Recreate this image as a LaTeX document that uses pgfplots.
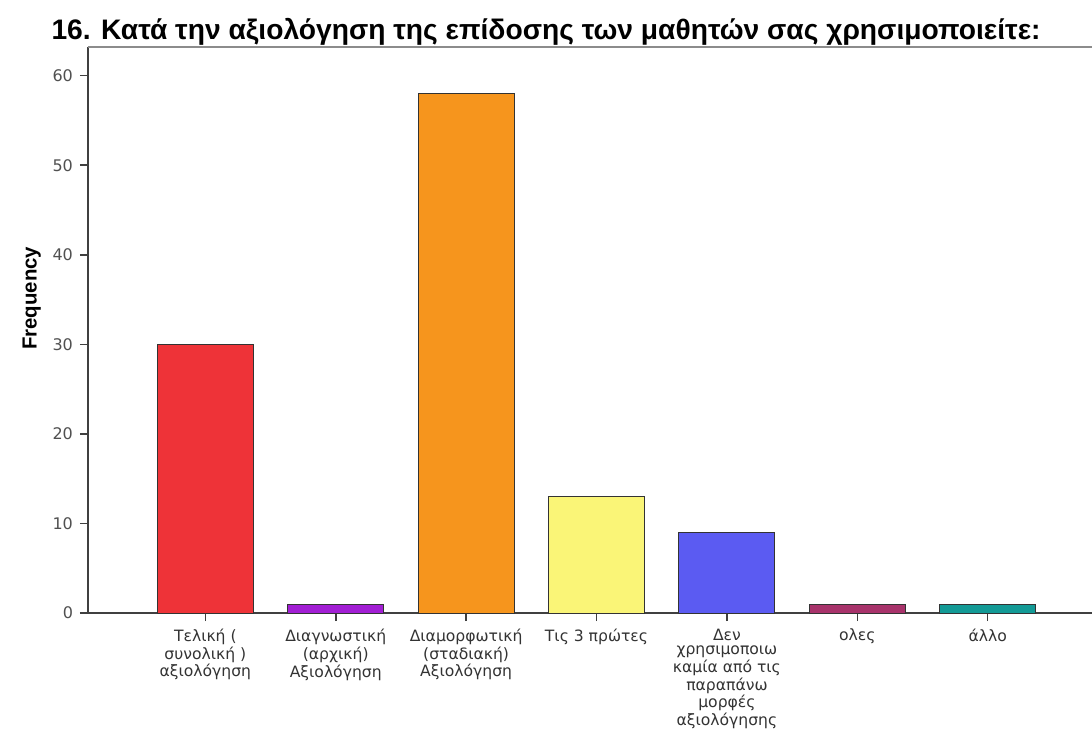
\documentclass[border=0pt]{standalone}
\usepackage{fontspec}
\setmainfont{Liberation Sans}
\newfontfamily\labfont{DejaVu Sans}
\usepackage{pgfplots}
\pgfplotsset{compat=1.18}
\definecolor{cRed}{HTML}{EE3338}
\definecolor{cPur}{HTML}{A21FD4}
\definecolor{cOra}{HTML}{F6951D}
\definecolor{cYel}{HTML}{FAF577}
\definecolor{cBlu}{HTML}{5B5BF2}
\definecolor{cMar}{HTML}{A8336B}
\definecolor{cTea}{HTML}{139A96}
\definecolor{tickgray}{HTML}{505050}
\begin{document}
\begin{tikzpicture}
\useasboundingbox (-44pt,-58pt) rectangle (502pt,306.5pt);
\clip (-44pt,-58pt) rectangle (502pt,306.5pt);
\begin{axis}[
  at={(0pt,0pt)}, anchor=south west,
  scale only axis, width=502pt, height=283pt,
  xmin=-0.9, xmax=6.8, ymin=0, ymax=63.2,
  axis lines=left, axis line style={-, draw=black!75, line width=0.9pt},
  clip=false,
  ybar, bar shift=0pt, bar width=48pt,
  ytick={0,10,20,30,40,50,60},
  xtick={0,1,2,3,4,5,6},
  xticklabels={{Τελική (\\συνολική )\\αξιολόγηση},
               {Διαγνωστική\\(αρχική)\\Αξιολόγηση},
               {Διαμορφωτική\\(σταδιακή)\\Αξιολόγηση},
               {Τις 3 πρώτες},
               {Δεν\\χρησιμοποιω\\καμία από τις\\παραπάνω\\μορφές\\αξιολόγησης},
               {ολες},
               {άλλο}},
  /pgf/number format/assume math mode=true,
  tick align=outside, major tick length=4pt,
  tick style={draw=black!75, line width=0.8pt},
  yticklabel style={font=\labfont\fontsize{8}{9}\selectfont, text=tickgray},
  xticklabel style={font=\labfont\fontsize{7.8}{7.1}\selectfont, text=black!80, align=center, yshift=-0.5pt},
  ylabel={\textbf{Frequency}},
  ylabel style={font=\fontsize{10.2}{12}\selectfont, at={(axis description cs:-0.056,0.556)}, anchor=center},
]
\addplot[fill=cRed, draw=black!80, line width=0.5pt] coordinates {(0,30)};
\addplot[fill=cPur, draw=black!80, line width=0.5pt] coordinates {(1,1)};
\addplot[fill=cOra, draw=black!80, line width=0.5pt] coordinates {(2,58)};
\addplot[fill=cYel, draw=black!80, line width=0.5pt] coordinates {(3,13)};
\addplot[fill=cBlu, draw=black!80, line width=0.5pt] coordinates {(4,9)};
\addplot[fill=cMar, draw=black!80, line width=0.5pt] coordinates {(5,1)};
\addplot[fill=cTea, draw=black!80, line width=0.5pt] coordinates {(6,1)};
\draw[black!45, line width=0.8pt] (rel axis cs:0,1) -- (rel axis cs:1,1);
\end{axis}
\node[anchor=base, font=\bfseries\fontsize{14.1}{16}\selectfont] at (229pt,286.5pt)
  {16. Κατά την αξιολόγηση της επίδοσης των μαθητών σας χρησιμοποιείτε:};
\end{tikzpicture}
\end{document}
